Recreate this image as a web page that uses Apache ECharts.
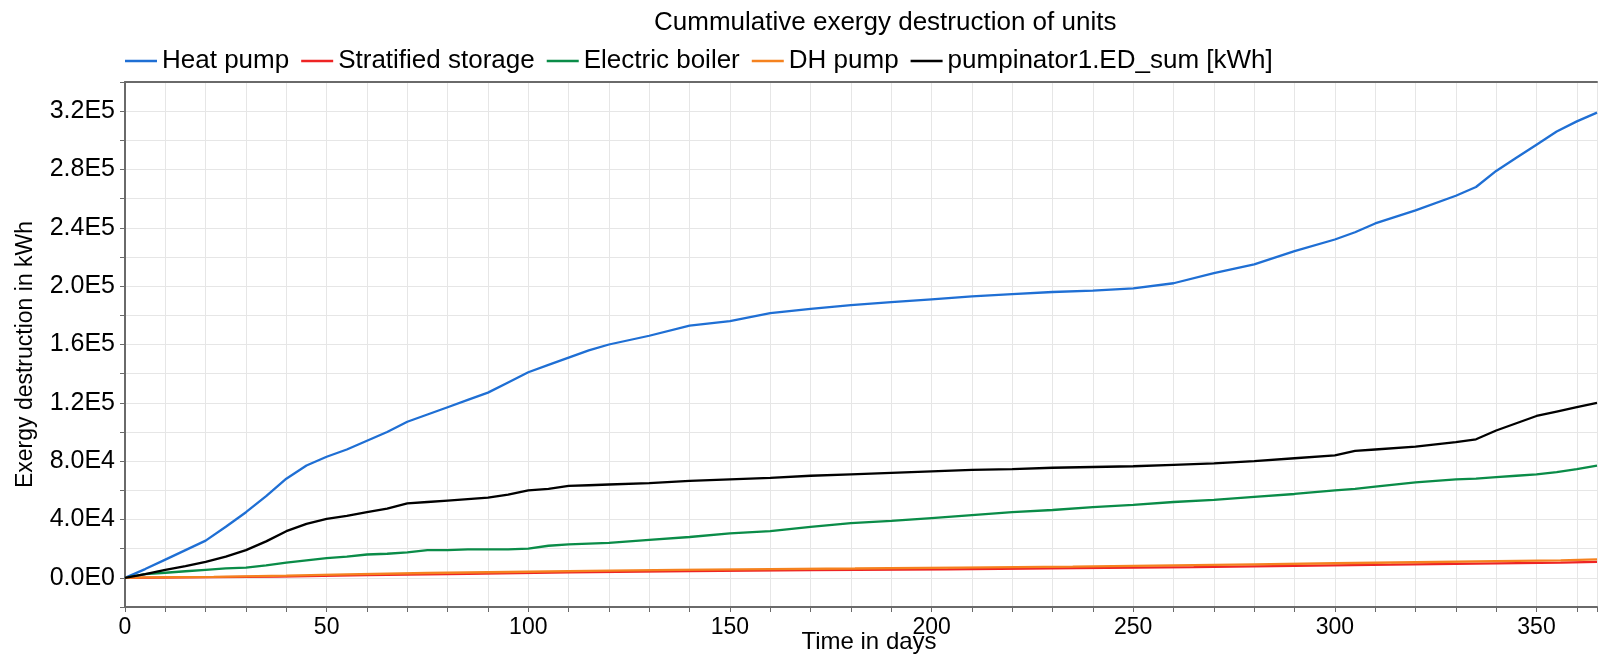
<!DOCTYPE html>
<html>
<head>
<meta charset="utf-8">
<script src="https://cdn.jsdelivr.net/npm/echarts@6/dist/echarts.min.js"></script>
<style>
  html, body { margin: 0; padding: 0; background: #fff; }
  #chart { width: 1601px; height: 654px; }
</style>
</head>
<body>
<div id="chart"></div>
<script>
// days shared by the three smooth curves
const days = [0, 5, 10, 15, 20, 25, 30, 35, 40, 45, 50, 55, 60, 65, 70, 75, 80, 85, 90, 95, 100, 105, 110, 115, 120,
    130, 140, 150, 160, 170, 180, 190, 200, 210, 220, 230, 240, 250, 260, 270, 280, 290, 300,
    305, 310, 320, 330, 335, 340, 345, 350, 355, 360, 365]

// values in thousands of kWh
const heatPump = [0, 6, 12.5, 19, 25.5, 35, 45, 56, 68, 77, 83, 88, 94, 100, 107, 112, 117, 122, 127, 134, 141, 146, 151, 156, 160,
    166, 173, 176, 181.5, 184.5, 187, 189, 191, 193, 194.5, 196, 197, 198.5, 202, 209, 215, 224, 232,
    237, 243, 252, 262, 268, 279, 288, 297, 306, 313, 319]
const pumpinator = [0, 2.5, 5.5, 8, 11, 14.5, 19, 25, 32, 37, 40.5, 42.5, 45, 47.5, 51, 52, 53, 54, 55, 57, 60, 61, 63, 63.5, 64,
    65, 66.5, 67.5, 68.5, 70, 71, 72, 73, 74, 74.5, 75.5, 76, 76.5, 77.5, 78.5, 80, 82, 84,
    87, 88, 90, 93, 95, 101, 106, 111, 114, 117, 120]
const electricBoiler = [0, 2.5, 3.5, 4.5, 5.5, 6.5, 7, 8.5, 10.5, 12, 13.5, 14.5, 16, 16.5, 17.5, 19, 19, 19.5, 19.5, 19.5, 20, 22, 23, 23.5, 24,
    26, 28, 30.5, 32, 35, 37.5, 39, 41, 43, 45, 46.5, 48.5, 50, 52, 53.5, 55.5, 57.5, 60,
    61, 62.5, 65.5, 67.5, 68, 69, 70, 71, 72.5, 74.5, 77]

// stepped curves (kWh)
const dhPumpDays = [0, 5, 22, 22, 40, 40, 55, 55, 75, 75, 95, 95, 115, 115, 137, 137, 160, 160, 181, 181,
    207, 207, 235, 235, 260, 260, 280, 280, 300, 300, 320, 320, 340, 340, 356, 356, 365]
const dhPump = [0, 300, 600, 1200, 1500, 2000, 2400, 2900, 3300, 3800, 4000, 4500, 4800, 5200, 5500, 5800, 6000, 6300, 6400, 6800,
    7000, 7500, 7700, 8300, 8500, 9000, 9200, 9800, 10000, 10500, 10700, 11200, 11400, 11900, 12000, 12600, 12700]
const storageDays = [0, 38, 38, 60, 60, 85, 85, 110, 110, 140, 140, 170, 170, 204, 204, 236, 236, 265, 265,
    290, 290, 314, 314, 335, 335, 356, 356, 365]
const storage = [0, 800, 1500, 1800, 2400, 2800, 3300, 3700, 4200, 4600, 5000, 5300, 5600, 5800, 6300, 6600, 7100, 7400, 7900,
    8200, 8700, 9000, 9500, 9800, 10200, 10400, 10800, 10900]

const seriesNames = ['Heat pump', 'Stratified storage', 'Electric boiler', 'DH pump', 'pumpinator1.ED_sum [kWh]']
const seriesColors = ['#1f6fd4', '#ee2424', '#0a8c48', '#f5821f', '#000000']

const FONT = 'Liberation Sans, Arial, sans-serif'
const axisGrey = '#6a6a6a'

const pairs = (xs, ys, k) => xs.map((x, i) => [x, ys[i] * k])

const lineSeries = (name, data, color) => ({
    name: name,
    type: 'line',
    data: data,
    symbol: 'none',
    animation: false,
    lineStyle: { color: color, width: 2.3 },
    itemStyle: { color: color }
})

const chart = echarts.init(document.getElementById('chart'))
const option = {
    backgroundColor: '#fff',
    title: {
        text: 'Cummulative exergy destruction of units',
        left: 649,
        top: 5,
        textStyle: { fontFamily: FONT, fontSize: 26, fontWeight: 'normal', color: '#000' }
    },
    legend: {
        data: seriesNames,
        icon: 'rect',
        left: 120,
        top: 43,
        itemWidth: 32,
        itemHeight: 2.5,
        itemGap: 12,
        textStyle: { fontFamily: FONT, fontSize: 26, color: '#000' }
    },
    grid: { left: 125, right: 4, top: 82, bottom: 47, outerBoundsMode: 'none' },
    xAxis: [
        {
            type: 'value',
            min: 0,
            max: 365,
            interval: 10,
            name: 'Time in days',
            nameLocation: 'middle',
            nameGap: 23,
            nameMoveOverlap: false,
            nameTextStyle: { fontFamily: FONT, fontSize: 24, color: '#000', padding: [0, 0, 0, 16] },
            axisLine: { onZero: false, lineStyle: { color: axisGrey, width: 2 } },
            axisTick: { length: 5, lineStyle: { color: axisGrey, width: 1 } },
            axisLabel: {
                fontFamily: FONT, fontSize: 23, color: '#000', margin: 9,
                formatter: v => (v % 50 === 0 ? String(v) : '')
            },
            splitLine: { show: true, lineStyle: { color: '#e6e6e6', width: 1 } }
        },
        {
            type: 'value',
            position: 'top',
            min: 0,
            max: 365,
            axisLine: { show: true, onZero: false, lineStyle: { color: axisGrey, width: 2 } },
            axisTick: { show: false },
            axisLabel: { show: false },
            splitLine: { show: false }
        }
    ],
    yAxis: {
        type: 'value',
        min: -20000,
        max: 340000,
        interval: 20000,
        name: 'Exergy destruction in kWh',
        nameLocation: 'middle',
        nameGap: 88,
        nameMoveOverlap: false,
        nameTextStyle: { fontFamily: FONT, fontSize: 23, color: '#000', padding: [0, 20, 0, 0] },
        axisLine: { show: true, onZero: false, lineStyle: { color: axisGrey, width: 2 } },
        axisTick: { show: true, length: 5, lineStyle: { color: axisGrey, width: 1 } },
        axisLabel: {
            fontFamily: FONT, fontSize: 25, color: '#000', margin: 10,
            formatter: v => (Math.round(v) % 40000 === 0 ? v.toExponential(1).replace('e+', 'E') : '')
        },
        splitLine: { show: true, lineStyle: { color: '#e6e6e6', width: 1 } }
    },
    series: [
        lineSeries(seriesNames[0], pairs(days, heatPump, 1000), seriesColors[0]),
        lineSeries(seriesNames[1], pairs(storageDays, storage, 1), seriesColors[1]),
        lineSeries(seriesNames[2], pairs(days, electricBoiler, 1000), seriesColors[2]),
        lineSeries(seriesNames[3], pairs(dhPumpDays, dhPump, 1), seriesColors[3]),
        lineSeries(seriesNames[4], pairs(days, pumpinator, 1000), seriesColors[4])
    ]
}
chart.setOption(option)
</script>
</body>
</html>
